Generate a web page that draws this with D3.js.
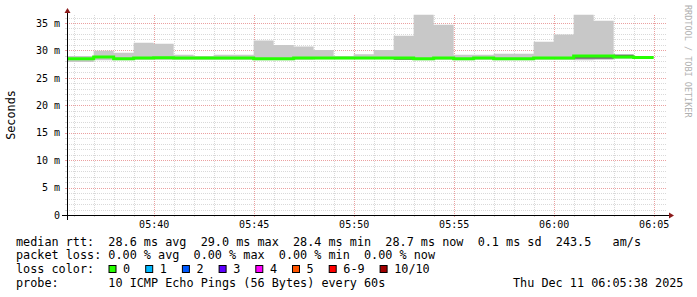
<!DOCTYPE html>
<html>
<head>
<meta charset="utf-8">
<title>SmokePing</title>
<script src="https://cdn.jsdelivr.net/npm/d3@7"></script>
<style>
  body { margin: 0; background: #fff; }
  text { font-family: "DejaVu Sans Mono", monospace; white-space: pre; }
</style>
</head>
<body>
<script>
// one sample per minute, 05:35 .. 06:04 (ms)
var minutes = ["05:35","05:36","05:37","05:38","05:39","05:40","05:41","05:42","05:43","05:44",
               "05:45","05:46","05:47","05:48","05:49","05:50","05:51","05:52","05:53","05:54",
               "05:55","05:56","05:57","05:58","05:59","06:00","06:01","06:02","06:03","06:04"];
var pingMax = [29.0, 29.0, 29.95, 29.6, 31.4, 31.2, 29.2, 29.0, 29.2, 29.2,
               31.8, 31.0, 30.7, 30.1, 29.0, 29.3, 30.1, 32.7, 36.5, 34.7,
               29.2, 29.2, 29.4, 29.4, 31.6, 32.9, 36.5, 35.4, 29.3, 28.8];
var pingMin = [27.9, 27.9, 28.2, 28.2, 28.3, 28.3, 28.3, 28.3, 28.3, 28.3,
               28.2, 28.2, 28.3, 28.4, 28.4, 28.4, 28.4, 28.3, 28.2, 28.3,
               28.2, 28.3, 28.2, 28.2, 28.3, 28.3, 28.2, 28.3, 28.5, 28.6];
var median  = [28.5, 28.5, 28.8, 28.5, 28.6, 28.65, 28.6, 28.6, 28.6, 28.6,
               28.5, 28.5, 28.6, 28.6, 28.6, 28.6, 28.6, 28.6, 28.5, 28.6,
               28.5, 28.6, 28.5, 28.5, 28.6, 28.6, 29.0, 29.0, 28.8, 28.7];
var innerLo = [28.5, 28.5, 28.8, 28.5, 28.6, 28.65, 28.6, 28.6, 28.6, 28.6,
               28.5, 28.5, 28.6, 28.6, 28.6, 28.6, 28.6, 28.3, 28.5, 28.6,
               28.25, 28.6, 28.25, 28.25, 28.6, 28.6, 28.5, 28.5, 28.8, 28.7];
var innerHi = [28.5, 28.5, 28.8, 28.5, 28.6, 28.65, 28.6, 28.6, 28.6, 28.6,
               28.5, 28.5, 28.6, 28.6, 28.6, 28.6, 28.6, 28.6, 28.5, 28.6,
               28.5, 28.6, 28.5, 28.5, 28.6, 28.6, 29.0, 29.0, 29.2, 28.7];

var yTicks = [0, 5, 10, 15, 20, 25, 30, 35];
var lossLabels = ["0", "1", "2", "3", "4", "5", "6-9", "10/10"];
var lossColors = ["#26ff00", "#00b8ff", "#0059ff", "#5e00ff", "#ff00ff", "#ff5500", "#ff0000", "#a10000"];

var legendLines = [
  "median rtt:  28.6 ms avg  29.0 ms max  28.4 ms min  28.7 ms now  0.1 ms sd  243.5   am/s",
  "packet loss: 0.00 % avg  0.00 % max  0.00 % min  0.00 % now",
  "loss color:",
  "probe:       10 ICMP Echo Pings (56 Bytes) every 60s"
];
var stamp = "Thu Dec 11 06:05:38 2025";

var W = 697, H = 297;
var pL = 67, pR = 667, pT = 15, pB = 215;
var parse = d3.timeParse("%Y-%m-%d %H:%M");
var t0 = new Date(2025, 11, 11, 5, 35, 40), t1 = new Date(2025, 11, 11, 6, 5, 40);

var x = d3.scaleTime().domain([t0, t1]).range([pL, pR]);
var y = d3.scaleLinear().domain([0, 36.46]).range([pB, pT]);

var svg = d3.select("body").append("svg").attr("width", W).attr("height", H);

svg.append("defs").append("clipPath").attr("id", "plot")
  .append("rect").attr("x", pL).attr("y", pT - 1).attr("width", pR - pL).attr("height", pB - pT + 1);

// data rows, with a closing row so the last step is drawn to its end
var rows = minutes.map(function(m, i) {
  return { t: parse("2025-12-11 " + m), max: pingMax[i], min: pingMin[i], med: median[i], lo: innerLo[i], hi: innerHi[i] };
});
var last = rows[rows.length - 1];
rows.push(Object.assign({}, last, { t: new Date(+last.t + 60000) }));

// grid
var minorY = d3.range(1, 37).filter(function(v) { return v % 5 != 0; });
var majorY = yTicks.slice(1);
var minorX = d3.timeMinute.range(t0, t1).filter(function(d) { return d.getMinutes() % 5 != 0; });
var majorX = d3.timeMinute.range(t0, t1).filter(function(d) { return d.getMinutes() % 5 == 0; });
var gridMinor = "#d9d9d9", gridMajor = "#eba0a0";

var grid = svg.append("g").attr("shape-rendering", "crispEdges");
function hLines(vals, col) {
  grid.selectAll(null).data(vals).enter().append("line")
    .attr("x1", pL).attr("x2", pR)
    .attr("y1", function(d) { return Math.round(y(d)) + 0.5; })
    .attr("y2", function(d) { return Math.round(y(d)) + 0.5; })
    .attr("stroke", col).attr("stroke-dasharray", "1,1");
  grid.selectAll(null).data(vals).enter().append("line")
    .attr("x1", pL - 2).attr("x2", pL)
    .attr("y1", function(d) { return Math.round(y(d)) + 0.5; })
    .attr("y2", function(d) { return Math.round(y(d)) + 0.5; })
    .attr("stroke", col);
}
function vLines(vals, col) {
  grid.selectAll(null).data(vals).enter().append("line")
    .attr("y1", pT).attr("y2", pB)
    .attr("x1", function(d) { return Math.round(x(d)) + 0.5; })
    .attr("x2", function(d) { return Math.round(x(d)) + 0.5; })
    .attr("stroke", col).attr("stroke-dasharray", "1,1");
  grid.selectAll(null).data(vals).enter().append("line")
    .attr("y1", pB).attr("y2", pB + 2)
    .attr("x1", function(d) { return Math.round(x(d)) + 0.5; })
    .attr("x2", function(d) { return Math.round(x(d)) + 0.5; })
    .attr("stroke", col);
}
hLines(minorY, gridMinor);
vLines(minorX, gridMinor);
hLines(majorY, gridMajor);
vLines(majorX, gridMajor);

// smoke + median
var plot = svg.append("g").attr("clip-path", "url(#plot)");
plot.append("path").datum(rows)
  .attr("fill", "#c8c8c8")
  .attr("d", d3.area().curve(d3.curveStepAfter)
    .x(function(d) { return x(d.t); })
    .y0(function(d) { return y(d.min); })
    .y1(function(d) { return y(d.max); }));
plot.append("path").datum(rows)
  .attr("fill", "#6a6a6a")
  .attr("d", d3.area().curve(d3.curveStepAfter)
    .x(function(d) { return x(d.t); })
    .y0(function(d) { return y(d.lo); })
    .y1(function(d) { return y(d.hi); }));
plot.append("path").datum(rows)
  .attr("fill", "none").attr("stroke", lossColors[0]).attr("stroke-width", 3)
  .attr("d", d3.line().curve(d3.curveStepAfter)
    .x(function(d) { return x(d.t); })
    .y(function(d) { return y(d.med); }));

// axis labels
var xAxis = svg.append("g").attr("transform", "translate(0," + pB + ")")
  .call(d3.axisBottom(x).tickValues(majorX).tickFormat(d3.timeFormat("%H:%M")).tickSize(0).tickPadding(6));
xAxis.select(".domain").remove();
xAxis.selectAll("text").attr("font-family", "DejaVu Sans Mono").attr("font-size", "10px").attr("fill", "#000");

var yAxis = svg.append("g").attr("transform", "translate(" + pL + ",0)")
  .call(d3.axisLeft(y).tickValues(yTicks).tickFormat(function(d) { return d == 0 ? "0" : d + " m"; }).tickSize(0).tickPadding(7));
yAxis.select(".domain").remove();
yAxis.selectAll("text").attr("font-family", "DejaVu Sans Mono").attr("font-size", "10px").attr("fill", "#000");

// axis lines and arrows
svg.append("line").attr("x1", pL - 5).attr("x2", pR + 2).attr("y1", pB + 0.5).attr("y2", pB + 0.5)
  .attr("stroke", "#000").attr("shape-rendering", "crispEdges");
svg.append("line").attr("x1", pL + 0.5).attr("x2", pL + 0.5).attr("y1", pB + 5).attr("y2", pT - 2)
  .attr("stroke", "#000").attr("shape-rendering", "crispEdges");
svg.append("path").attr("d", "M" + (pR + 7) + "," + (pB + 0.5) + "L" + (pR + 2) + "," + (pB - 2.5) + "L" + (pR + 2) + "," + (pB + 3.5) + "Z")
  .attr("fill", "#8b1a1a");
svg.append("path").attr("d", "M" + (pL + 0.5) + "," + (pT - 7) + "L" + (pL - 2.5) + "," + (pT - 2) + "L" + (pL + 3.5) + "," + (pT - 2) + "Z")
  .attr("fill", "#8b1a1a");

// titles
svg.append("text").attr("transform", "translate(15," + ((pT + pB) / 2) + ") rotate(-90)")
  .attr("text-anchor", "middle").attr("font-size", "11.8px").attr("fill", "#000").text("Seconds");
svg.append("text").attr("transform", "translate(685,5) rotate(90)")
  .attr("font-size", "8.5px").attr("fill", "#b0b0b0").text("RRDTOOL / TOBI OETIKER");

// legend
var cw = 7.1, lx = 16;
var lineY = [245.5, 259, 273, 286.5];
svg.selectAll(".leg").data(legendLines).enter().append("text").attr("class", "leg")
  .attr("x", lx).attr("y", function(d, i) { return lineY[i]; })
  .attr("font-size", "11.8px").attr("fill", "#000").text(function(d) { return d; });
svg.append("text").attr("x", lx + 70 * cw).attr("y", lineY[3])
  .attr("font-size", "11.8px").attr("fill", "#000").text(stamp);

var bx = 108.5;
lossLabels.forEach(function(lab, i) {
  svg.append("rect").attr("x", bx + 0.5).attr("y", 265.5).attr("width", 7).attr("height", 7)
    .attr("fill", lossColors[i]).attr("stroke", "#000").attr("stroke-width", 1);
  svg.append("text").attr("x", bx + 14.6).attr("y", lineY[2])
    .attr("font-size", "11.8px").attr("fill", "#000").text(lab);
  bx = bx + 14.6 + lab.length * cw + 15;
});
</script>
</body>
</html>
